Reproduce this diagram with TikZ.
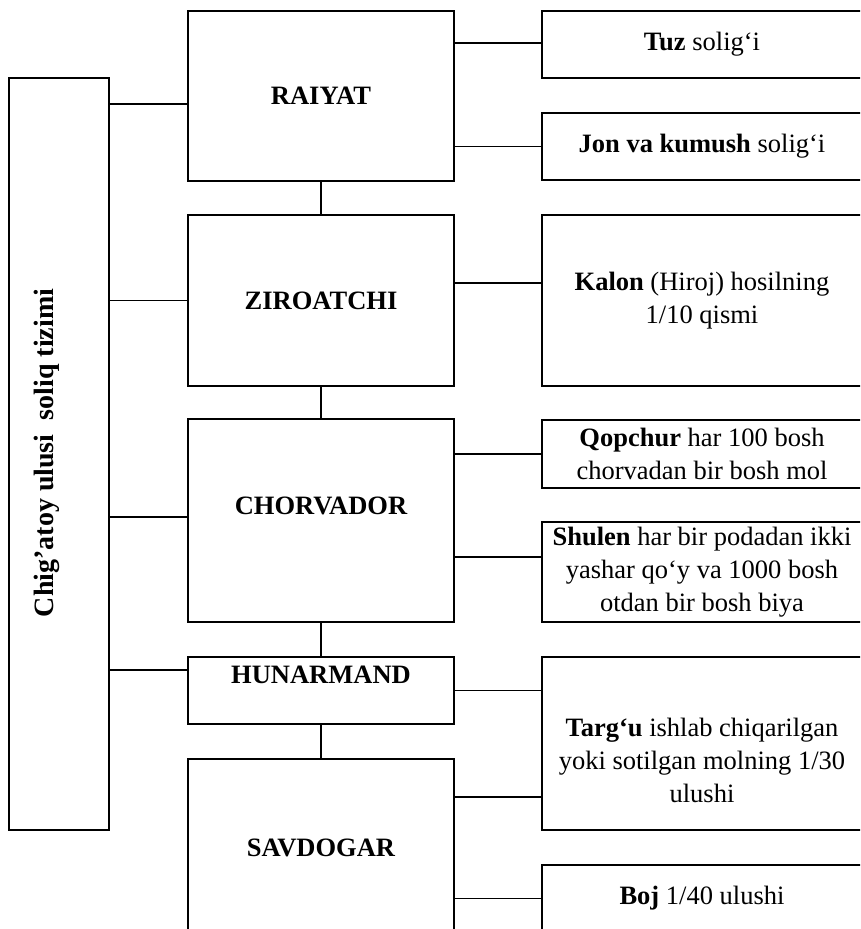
\documentclass[tikz,border=0pt]{standalone}
\usepackage{fontspec}
\setmainfont{Liberation Serif}
\usetikzlibrary{positioning}

\begin{document}
\begin{tikzpicture}[x=1pt,y=-1pt, line width=1.5pt,
  txt/.style={inner sep=0pt, align=center, font=\fontsize{26.5}{33}\selectfont},
  box/.style={txt, draw, rectangle},
  midbox/.style={box, minimum width=266pt},
  taxbox/.style={box, minimum width=320pt},
  head/.style={font=\fontsize{26.5}{33}\selectfont\bfseries}]
\clip (0,0) rectangle (860,929);
% left column
\node[box, minimum width=100pt, minimum height=752pt] (ulus) at (59,454) {};
\node[rotate=90, font=\fontsize{28}{33}\selectfont\bfseries] (ulustxt) at (47,453) {Chig’atoy ulusi\ \ soliq tizimi};
% classes
\node[midbox, head, minimum height=170pt] (raiyat) at (321,96) {RAIYAT};
\node[midbox, head, minimum height=171pt] (ziroatchi) at (321,300.5) {ZIROATCHI};
\node[midbox, minimum height=203pt] (chorvador) at (321,520.5) {};
\node[head] (chorvadortxt) at ([yshift=15pt]chorvador.center) {CHORVADOR};
\node[midbox, minimum height=67pt] (hunarmand) at (321,690.5) {};
\node[head] (hunarmandtxt) at ([yshift=16pt]hunarmand.center) {HUNARMAND};
\node[midbox, head, minimum height=177pt] (savdogar) at (321,847.5) {SAVDOGAR};
% taxes
\node[taxbox, minimum height=67pt] (tuz) at (702,44.5) {\textbf{Tuz} solig‘i};
\node[taxbox, minimum height=67pt] (jon) at (702,146.5) {\textbf{Jon va kumush} solig‘i};
\node[taxbox, minimum height=171pt] (kalon) at (702,300.5) {\textbf{Kalon} (Hiroj) hosilning\\1/10 qismi};
\node[taxbox, minimum height=68pt] (qopchur) at (702,454) {\textbf{Qopchur} har 100 bosh\\chorvadan bir bosh mol};
\node[taxbox, minimum height=100pt] (shulen) at (702,572) {\textbf{Shulen} har bir podadan ikki\\yashar qo‘y va 1000 bosh\\otdan bir bosh biya};
\node[taxbox, minimum height=173pt] (targu) at (702,743.5) {};
\node[txt] (targutxt) at ([yshift=-16.5pt]targu.center) {\textbf{Targ‘u} ishlab chiqarilgan\\yoki sotilgan molning 1/30\\ulushi};
\node[taxbox, minimum height=67pt] (boj) at (702,898.5) {\textbf{Boj} 1/40 ulushi};
% links to the system box
\draw (ulus.east |- 0,104) -- (raiyat.west |- 0,104);
\draw (ulus.east |- ziroatchi.west) -- (ziroatchi.west);
\draw (ulus.east |- 0,517) -- (chorvador.west |- 0,517);
\draw (ulus.east |- 0,670) -- (hunarmand.west |- 0,670);
% chain of classes
\draw (raiyat) -- (ziroatchi);
\draw (ziroatchi) -- (chorvador);
\draw (chorvador) -- (hunarmand);
\draw (hunarmand) -- (savdogar);
% links to taxes
\draw (raiyat.east |- 0,43) -- (tuz.west |- 0,43);
\draw (raiyat.east |- jon.west) -- (jon.west);
\draw (ziroatchi.east |- 0,283) -- (kalon.west |- 0,283);
\draw (chorvador.east |- qopchur.west) -- (qopchur.west);
\draw (chorvador.east |- 0,557) -- (shulen.west |- 0,557);
\draw (hunarmand.east) -- (targu.west |- hunarmand.east);
\draw (savdogar.east |- 0,797) -- (targu.west |- 0,797);
\draw (savdogar.east |- boj.west) -- (boj.west);
\end{tikzpicture}
\end{document}
